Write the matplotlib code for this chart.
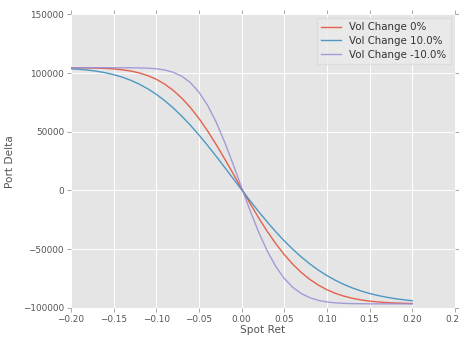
import matplotlib
matplotlib.use("Agg")
import matplotlib.pyplot as plt

# spot returns -0.20 .. 0.20 in 0.01 steps
spot_ret = [-0.20, -0.19, -0.18, -0.17, -0.16, -0.15, -0.14, -0.13, -0.12, -0.11,
            -0.10, -0.09, -0.08, -0.07, -0.06, -0.05, -0.04, -0.03, -0.02, -0.01,
            0.00, 0.01, 0.02, 0.03, 0.04, 0.05, 0.06, 0.07, 0.08, 0.09,
            0.10, 0.11, 0.12, 0.13, 0.14, 0.15, 0.16, 0.17, 0.18, 0.19, 0.20]

delta_base = [104460, 104420, 104330, 104180, 103920, 103470, 102770, 101690, 100080, 97790,
              94650, 90490, 85140, 78530, 70570, 61320, 50830, 39340, 27090, 14390,
              1510, -11140, -23360, -34770, -45220, -54590, -62770, -69830, -75700, -80560,
              -84460, -87560, -89950, -91780, -93140, -94150, -94870, -95390, -95760, -96010,
              -96180]

delta_up = [103600, 103130, 102460, 101530, 100280, 98630, 96500, 93830, 90530, 86550,
            81850, 76380, 70150, 63170, 55540, 47260, 38470, 29270, 19820, 10210,
            620, -8820, -17990, -26790, -35110, -42890, -50070, -56620, -62530, -67800,
            -72440, -76500, -80000, -82990, -85530, -87660, -89420, -90870, -92060, -93030,
            -93800]

delta_down = [104500, 104500, 104500, 104500, 104500, 104490, 104480, 104450, 104350, 104120,
              103600, 102550, 100580, 97180, 91760, 83700, 72640, 58430, 41430, 22390,
              2390, -17310, -35540, -51500, -64640, -74890, -82450, -87760, -91270, -93530,
              -94860, -95640, -96060, -96290, -96390, -96460, -96480, -96490, -96500, -96500,
              -96500]

labels = ["Vol Change 0%", "Vol Change 10.0%", "Vol Change -10.0%"]
colors = ["#E24A33", "#348ABD", "#988ED5"]

fig = plt.figure(figsize=(4.6, 3.38), dpi=100)
ax = fig.add_axes([0.1543, 0.0888, 0.8347, 0.869])
ax.set_facecolor("#E5E5E5")
ax.set_axisbelow(True)
ax.grid(True, color="white", linewidth=0.7)
for s in ax.spines.values():
    s.set_visible(False)

for ys, lab, c in zip([delta_base, delta_up, delta_down], labels, colors):
    ax.plot(spot_ret, ys, color=c, linewidth=1.0, alpha=0.85, label=lab)

ax.set_xlim(-0.2, 0.25)
ax.set_ylim(-100000, 150000)
ax.set_xticks([-0.20, -0.15, -0.10, -0.05, 0.00, 0.05, 0.10, 0.15, 0.20, 0.25])
ax.set_xticklabels(["\u22120.20", "\u22120.15", "\u22120.10", "\u22120.05", "0.00",
                    "0.05", "0.10", "0.15", "0.20", "0.25"])
ax.set_yticks([-100000, -50000, 0, 50000, 100000, 150000])
ax.set_yticklabels(["\u2212100000", "\u221250000", "0", "50000", "100000", "150000"])
ax.tick_params(which="both", top=True, right=True, direction="out", length=3,
               width=0.6, color="#999999", labelcolor="#555555", labelsize=6.4, pad=2)

ax.set_xlabel("Spot Ret", color="#555555", fontsize=7.6, labelpad=1)
ax.set_ylabel("Port Delta", color="#555555", fontsize=7.6, labelpad=6)

leg = ax.legend(loc="upper right", fontsize=7.4, frameon=True, fancybox=False,
                facecolor="#EBEBEB", edgecolor="#DADADA", handlelength=2.0,
                borderaxespad=0.4, labelspacing=0.35)
for t in leg.get_texts():
    t.set_color("#333333")

fig.savefig("out.png", dpi=100)
